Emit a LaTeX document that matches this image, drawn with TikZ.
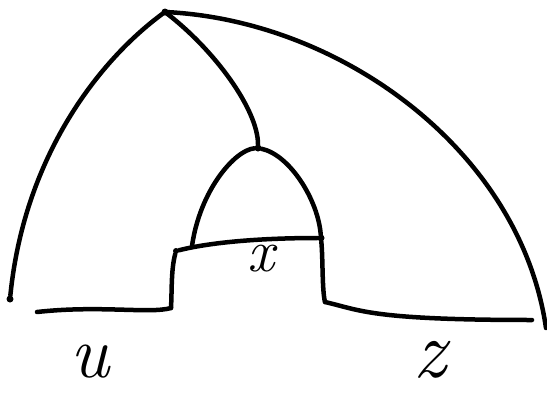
\documentclass[tikz,border=0pt]{standalone}
\usepackage{fontspec}
\setmainfont{Latin Modern Roman}
\begin{document}
\begin{tikzpicture}[x=1pt,y=-1pt,
  stroke/.style={line width=4.5pt,line cap=round,line join=round,black},
  dotmark/.style={circle,fill=black,inner sep=0pt,minimum size=7pt},
  lbl/.style={inner sep=0pt}]
\useasboundingbox (0,0) rectangle (547,394);
% named points
\coordinate (T) at (165,12);
\node[dotmark] (N) at (258,148) {};
\node[dotmark] (L) at (10,299) {};
\node[dotmark,minimum size=6pt] (A) at (176,251) {};
\node[dotmark] (B) at (321,238) {};
\coordinate (C) at (171,308);
\coordinate (D) at (37,312);
\coordinate (E) at (325,302);
\coordinate (F) at (532,320);
\coordinate (G) at (546,328);
\coordinate (H) at (192,246);
\fill (T) circle (3.5pt);
% outer left arc
\draw[stroke] (T) .. controls (105,55) and (25,150) .. (L);
% outer right arc
\draw[stroke] (T) .. controls (340,20) and (520,150) .. (G);
% middle stem
\draw[stroke] (T) .. controls (215,50) and (258,110) .. (N);
% dome
\draw[stroke] (H) .. controls (200,190) and (235,150) .. (N);
\draw[stroke] (N) .. controls (290,155) and (318,200) .. (B);
% chord
\draw[stroke] (A) .. controls (220,240) and (280,238) .. (B);
% left step
\draw[stroke] (A) .. controls (171,270) and (172,290) .. (C);
\draw[stroke] (C) .. controls (150,314) and (100,305) .. (D);
% right step
\draw[stroke] (B) .. controls (323,260) and (322,290) .. (E);
\draw[stroke] (E) .. controls (360,310) and (370,320) .. (F);
% labels
\node[lbl,font=\itshape\fontsize{60}{60}\selectfont] (x) at (261,259) {x};
\node[lbl,font=\itshape\fontsize{74}{74}\selectfont] (u) at (90,362) {u};
\node[lbl,font=\itshape\fontsize{82}{82}\selectfont] (z) at (430,360) {z};
\end{tikzpicture}
\end{document}
